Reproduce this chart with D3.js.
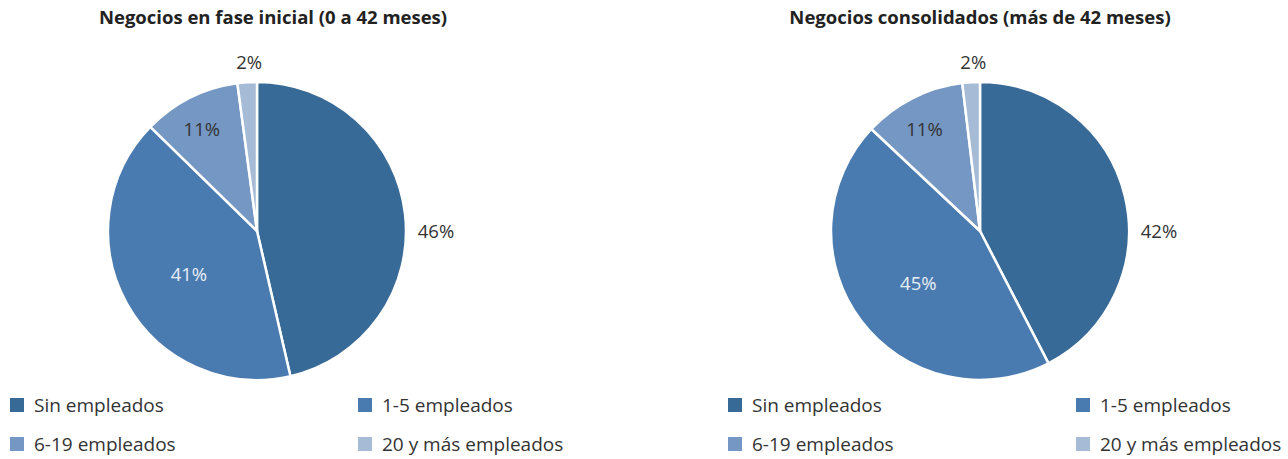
<!DOCTYPE html>
<html>
<head>
<meta charset="utf-8">
<script src="https://cdn.jsdelivr.net/npm/d3@7"></script>
<style>
  body { margin: 0; background: #fff; }
  text { font-family: "Open Sans", Lato, sans-serif; }
</style>
</head>
<body>
<svg id="svg1" width="1288" height="459"></svg>
<script>
// data
var categories = ["Sin empleados", "1-5 empleados", "6-19 empleados", "20 y más empleados"];
var titles = ["Negocios en fase inicial (0 a 42 meses)", "Negocios consolidados (más de 42 meses)"];
var inicial = [46.4, 40.9, 10.6, 2.1];
var consolidados = [42.4, 44.6, 11.1, 1.9];
var labelsInicial = ["46%", "41%", "11%", "2%"];
var labelsConsolidados = ["42%", "45%", "11%", "2%"];

var colors = ["#386a97", "#4a7bb0", "#7597c3", "#a6bbd6"];

var svg = d3.select("#svg1");
    width = +svg.attr("width");
    height = +svg.attr("height");

var radius = 149;
var color = d3.scaleOrdinal().domain(categories).range(colors);

var pie = d3.pie().sort(null).value(function(d) { return d.v; });
var arc = d3.arc().innerRadius(0).outerRadius(radius);

var charts = [
  {title: titles[0], values: inicial, labels: labelsInicial, cx: 257, titleX: 273, legendX: 10},
  {title: titles[1], values: consolidados, labels: labelsConsolidados, cx: 980, titleX: 980, legendX: 728}
];
var cy = 231;

// where each label sits: polar offset from the centre
function labelPos(d, i) {
  var mid = (d.startAngle + d.endAngle) / 2;
  var a, r;
  if (i == 0) { a = Math.PI / 2 - 0.005; r = radius + 30; }
  else if (i == 1) { a = mid - 0.05; r = radius * 0.54; }
  else if (i == 2) { a = mid - 0.03; r = radius * 0.78; }
  else { a = mid + 0.02; r = radius + 21; }
  return [Math.sin(a) * r, -Math.cos(a) * r];
}

charts.forEach(function(c) {
  var data = categories.map(function(k, i) { return {k: k, v: c.values[i], label: c.labels[i]}; });
  var arcs = pie(data);

  svg.append("text")
    .attr("x", c.titleX)
    .attr("y", 24)
    .attr("text-anchor", "middle")
    .attr("font-weight", "bold")
    .attr("font-size", 18.5)
    .attr("fill", "#222")
    .text(c.title);

  var g = svg.append("g")
    .attr("transform", "translate(" + c.cx + "," + cy + ")");

  g.selectAll("path")
    .data(arcs)
    .enter().append("path")
    .attr("d", arc)
    .attr("fill", function(d) { return color(d.data.k); })
    .attr("stroke", "#fff")
    .attr("stroke-width", 2.5)
    .attr("stroke-linejoin", "round");

  g.selectAll(".lbl")
    .data(arcs)
    .enter().append("text")
    .attr("class", "lbl")
    .attr("transform", function(d, i) { return "translate(" + labelPos(d, i) + ")"; })
    .attr("text-anchor", "middle")
    .attr("dominant-baseline", "central")
    .attr("font-size", 18.5)
    .attr("fill", function(d, i) { return i == 1 ? "#e8eef6" : "#333"; })
    .text(function(d) { return d.data.label; });

  // legend, 2 x 2
  var leg = svg.append("g")
    .attr("transform", "translate(" + c.legendX + ",0)");
  var item = leg.selectAll(".item")
    .data(categories)
    .enter().append("g")
    .attr("class", "item")
    .attr("transform", function(d, i) {
      return "translate(" + (i % 2) * 348 + "," + (405 + Math.floor(i / 2) * 39) + ")";
    });
  item.append("rect")
    .attr("x", 0).attr("y", -7)
    .attr("width", 14).attr("height", 14)
    .attr("fill", function(d) { return color(d); });
  item.append("text")
    .attr("x", 24)
    .attr("dominant-baseline", "central")
    .attr("font-size", 19)
    .attr("fill", "#333")
    .text(function(d) { return d; });
});
</script>
</body>
</html>
